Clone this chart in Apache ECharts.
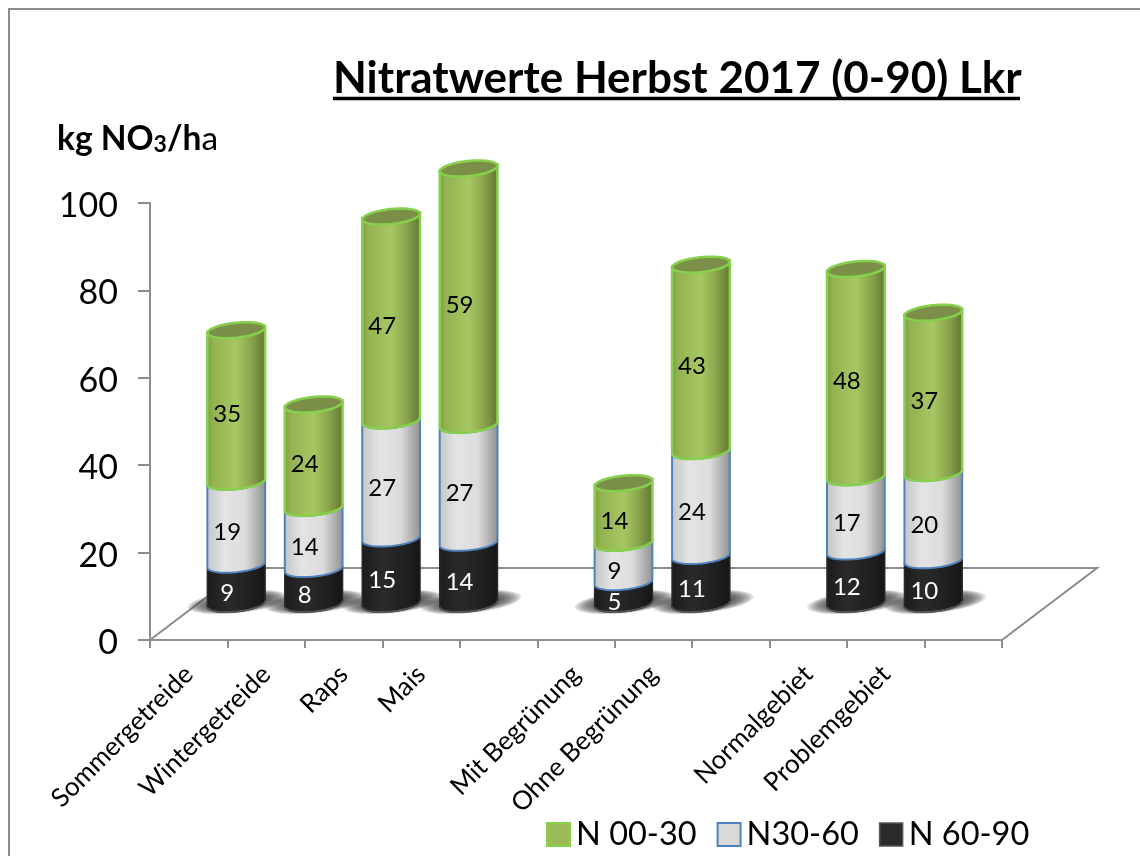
<!DOCTYPE html>
<html>
<head>
<meta charset="utf-8">
<style>html,body{margin:0;padding:0;background:#fff}#main{width:1140px;height:856px}</style>
<script src="https://cdn.jsdelivr.net/npm/echarts@6/dist/echarts.min.js"></script>
</head>
<body>
<div id="main"></div>
<script>
var categories = ['Sommergetreide', 'Wintergetreide', 'Raps', 'Mais', '', 'Mit Begrünung', 'Ohne Begrünung', '', 'Normalgebiet', 'Problemgebiet', ''];
var n6090 = [9, 8, 15, 14, null, 5, 11, null, 12, 10, null];
var n3060 = [19, 14, 27, 27, null, 9, 24, null, 17, 20, null];
var n0030 = [35, 24, 47, 59, null, 14, 43, null, 48, 37, null];

var FONT = 'Lato';
var DEPTH_X = 95, DEPTH_Y = 72;      // floor depth
var ANGLE = -6 * Math.PI / 180;      // tilt of the cylinder ellipses
var RY = 7.5;

function hGrad(stops) {
  return {type: 'linear', x: 0, y: 0, x2: 1, y2: 0, colorStops: stops.map(function (s) {
    return {offset: s[0], color: s[1]};
  })};
}

// points of the ellipse between angles from..to, centre cx,cy
function arc(cx, cy, rx, from, to, ry) {
  var pts = [];
  ry = ry || RY;
  for (var i = 0; i <= 24; i++) {
    var t = from + (to - from) * i / 24;
    var x = rx * Math.cos(t), y = ry * Math.sin(t);
    pts.push([cx + x * Math.cos(ANGLE) - y * Math.sin(ANGLE), cy + x * Math.sin(ANGLE) + y * Math.cos(ANGLE)]);
  }
  return pts;
}

function stacked(values, below) {
  return values.map(function (v, i) {
    var base = 0;
    below.forEach(function (b) { base += b[i] || 0; });
    return [i, base, v];
  }).filter(function (d) { return d[2] != null; });
}

function cylinder(opt) {
  return function (params, api) {
    var i = api.value(0), base = api.value(1), val = api.value(2);
    var rx = api.size([1, 0])[0] * 0.375;
    var low = api.coord([i, base]), high = api.coord([i, base + val]), mid = api.coord([i, base + val / 2]);
    var cx = low[0] + DEPTH_X / 2;
    var yLow = low[1] - DEPTH_Y / 2, yHigh = high[1] - DEPTH_Y / 2;
    // bottom front arc right->left, then top front arc left->right
    var pts = arc(cx, yLow, rx, 0, Math.PI).concat(arc(cx, yHigh, rx, Math.PI, 0));
    var children = [{
      type: 'polygon',
      shape: {points: pts},
      style: {fill: hGrad(opt.body), stroke: opt.stroke, lineWidth: opt.lineWidth, lineJoin: 'round'}
    }];
    if (opt.cap) {
      children.push({
        type: 'polygon',
        shape: {points: arc(cx, yHigh + 1.5, rx, 0, 2 * Math.PI)},
        style: {fill: opt.cap, stroke: opt.stroke, lineWidth: opt.lineWidth}
      });
    }
    if (opt.bottomLine) {
      children.push({
        type: 'polyline',
        shape: {points: arc(cx, yLow, rx, 0, Math.PI)},
        style: {fill: null, stroke: opt.bottomLine, lineWidth: 2}
      });
    }
    children.push({
      type: 'text',
      style: {
        text: String(val), x: cx - 9, y: mid[1] - DEPTH_Y / 2 + 9,
        align: 'center', verticalAlign: 'middle',
        font: '24px ' + FONT, fill: opt.labelColor
      }
    });
    return {type: 'group', children: children};
  };
}

// soft shadow on the floor, nested ellipses that add up towards the bar
function baseShadow(params, api) {
  var low = api.coord([api.value(0), 0]);
  var rx = api.size([1, 0])[0] * 0.375;
  var cx = low[0] + DEPTH_X / 2 + 2, cy = low[1] - DEPTH_Y / 2 - 2;
  var children = [];
  for (var k = 0; k < 10; k++) {
    children.push({
      type: 'polygon',
      shape: {points: arc(cx, cy, rx + 22 - k * 2.4, 0, 2 * Math.PI, 11 - k * 0.5)},
      style: {fill: 'rgba(60,60,60,0.15)'}
    });
  }
  return {type: 'group', children: children};
}

function floor(params) {
  var c = params.coordSys;
  var x0 = c.x, x1 = c.x + c.width, y = c.y + c.height;
  return {
    type: 'polygon',
    shape: {points: [[x0, y], [x1, y], [x1 + DEPTH_X, y - DEPTH_Y], [x0 + DEPTH_X, y - DEPTH_Y]]},
    style: {fill: '#fff', stroke: '#8c8c8c', lineWidth: 2}
  };
}

var chart = echarts.init(document.getElementById('main'), null, {renderer: 'canvas'});
chart.setOption({
  animation: false,
  backgroundColor: '#fff',
  textStyle: {fontFamily: FONT},
  grid: {left: 150, top: 203, width: 852, height: 437},
  title: {
    text: 'Nitratwerte Herbst 2017 (0-90) Lkr',
    left: 333, top: 57, padding: 0,
    textStyle: {fontFamily: FONT, fontSize: 44, fontWeight: 'bold', color: '#000'}
  },
  legend: {
    left: 546, top: 818, padding: 0, itemWidth: 23, itemHeight: 23, itemGap: 20,
    textStyle: {fontFamily: FONT, fontSize: 32.5, color: '#000', padding: [0, 0, 0, 1]},
    data: [
      {name: 'N 00-30', icon: 'rect', itemStyle: {color: '#9bbb59', borderColor: '#86d04e', borderWidth: 2}},
      {name: 'N30-60', icon: 'rect', itemStyle: {color: '#d9d9d9', borderColor: '#4f81bd', borderWidth: 2}},
      {name: 'N 60-90', icon: 'rect', itemStyle: {color: '#2b2b2b', borderColor: '#555', borderWidth: 1.5}}
    ]
  },
  xAxis: {
    type: 'category',
    data: categories,
    axisLine: {lineStyle: {color: '#8c8c8c', width: 2}},
    axisTick: {show: true, length: 8, lineStyle: {color: '#8c8c8c', width: 2}},
    axisLabel: {interval: 0, rotate: 45, fontSize: 26, color: '#000', fontFamily: FONT, margin: 30}
  },
  yAxis: {
    type: 'value', min: 0, max: 100, interval: 20,
    splitLine: {show: false},
    axisLine: {show: true, lineStyle: {color: '#8c8c8c', width: 2}},
    axisTick: {show: true, length: 12, lineStyle: {color: '#8c8c8c', width: 2}},
    axisLabel: {
      margin: 32, formatter: '{a|{value}}',
      rich: {a: {fontSize: 34, color: '#000', fontFamily: FONT, padding: [6, 0, 0, 0]}}
    }
  },
  graphic: [
    {type: 'polyline', shape: {points: [[9, 856], [9, 9], [1140, 9]]}, style: {fill: null, stroke: '#8c8c8c', lineWidth: 2}},
    {type: 'line', shape: {x1: 333, y1: 98.5, x2: 1020, y2: 98.5}, style: {stroke: '#000', lineWidth: 3.5}},
    {
      type: 'text', left: 57, top: 122,
      style: {
        rich: {
          b: {font: 'bold 33.5px ' + FONT, fill: '#000'},
          s: {font: 'bold 23px ' + FONT, fill: '#000', verticalAlign: 'bottom'},
          r: {font: '33.5px ' + FONT, fill: '#000'}
        },
        text: '{b|kg NO}{s|3}{b|/h}{r|a}'
      }
    }
  ],
  series: [
    {type: 'custom', name: 'floor', coordinateSystem: 'cartesian2d', silent: true, data: [[0, 0]], renderItem: floor},
    {type: 'custom', name: 'shadow', coordinateSystem: 'cartesian2d', silent: true, data: stacked(n6090, []), encode: {x: 0, y: 1}, renderItem: baseShadow},
    {
      type: 'custom', name: 'N 60-90', coordinateSystem: 'cartesian2d',
      data: stacked(n6090, []), encode: {x: 0, y: 1},
      itemStyle: {color: '#2b2b2b'},
      renderItem: cylinder({
        body: [[0, '#1c1c1c'], [0.35, '#2a2a2a'], [0.8, '#1e1e1e'], [1, '#141414']],
        stroke: '#2a2a2a', lineWidth: 1.5, bottomLine: '#555555', labelColor: '#fff'
      })
    },
    {
      type: 'custom', name: 'N30-60', coordinateSystem: 'cartesian2d',
      data: stacked(n3060, [n6090]), encode: {x: 0, y: 1},
      itemStyle: {color: '#d9d9d9'},
      renderItem: cylinder({
        body: [[0, '#c4c4c4'], [0.3, '#e4e4e4'], [0.65, '#dcdcdc'], [1, '#8e8e8e']],
        stroke: '#4f81bd', lineWidth: 2, labelColor: '#000'
      })
    },
    {
      type: 'custom', name: 'N 00-30', coordinateSystem: 'cartesian2d',
      data: stacked(n0030, [n6090, n3060]), encode: {x: 0, y: 1},
      itemStyle: {color: '#9bbb59'},
      renderItem: cylinder({
        body: [[0, '#7d9a42'], [0.12, '#93b251'], [0.5, '#a6c862'], [0.75, '#8aa54c'], [1, '#5f7333']],
        cap: '#7c8f48', stroke: '#86d04e', lineWidth: 2.5, labelColor: '#000'
      })
    }
  ]
});
</script>
</body>
</html>
